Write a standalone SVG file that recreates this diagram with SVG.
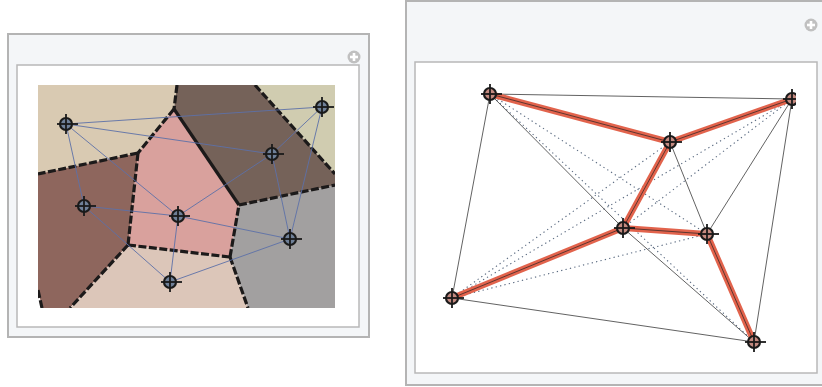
<svg xmlns="http://www.w3.org/2000/svg" xmlns:xlink="http://www.w3.org/1999/xlink" width="822" height="387" viewBox="0 0 822 387">
<style>
.outer{fill:#f4f6f8;stroke:#b4b4b4;stroke-width:2}
.inner{fill:#ffffff;stroke:#b8b8b8;stroke-width:1.5}
.cell{stroke:none}
.vb{fill:none;stroke:#1c1a1a;stroke-width:3.2;stroke-dasharray:8 2.5}
.vs{fill:none;stroke:#1c1a1a;stroke-width:3.2}
.del{stroke:#5c70a8;stroke-width:0.9;fill:none}
.mst{stroke:#e2634c;stroke-width:6;stroke-linecap:round;fill:none}
.mstc{stroke:#3a2a28;stroke-width:0.8;fill:none}
.thin{stroke:#3a3a3a;stroke-width:0.8;fill:none}
.dot{stroke:#5a6a80;stroke-width:1.1;stroke-dasharray:1.3 3.2;fill:none}
.plus{fill:#c0c0c0}
</style>
<defs>
<g id="mkL">
<circle r="6" fill="#6f8098" stroke="#1a1a1a" stroke-width="2.2"/>
<line x1="-9" y1="0" x2="12" y2="0" stroke="#1a1a1a" stroke-width="1.8"/>
<line x1="0" y1="-10" x2="0" y2="10" stroke="#1a1a1a" stroke-width="1.8"/>
</g>
<g id="mkR">
<circle r="6" fill="#c48a80" stroke="#1a1a1a" stroke-width="2.2"/>
<line x1="-3" y1="0" x2="3" y2="0" stroke="#d04030" stroke-width="1"/>
<line x1="-9" y1="0" x2="12" y2="0" stroke="#1a1a1a" stroke-width="1.8"/>
<line x1="0" y1="-10" x2="0" y2="10" stroke="#1a1a1a" stroke-width="1.8"/>
</g>
<g id="plusIcon">
<circle r="6.5" class="plus"/>
<rect x="-4" y="-1.3" width="8" height="2.6" fill="#fff"/>
<rect x="-1.3" y="-4" width="2.6" height="8" fill="#fff"/>
</g>
<clipPath id="clipL"><rect x="38" y="85" width="297" height="223"/></clipPath>
<clipPath id="clipR"><rect x="415" y="62" width="381" height="311"/></clipPath>
</defs>
<rect width="822" height="387" fill="#ffffff"/>

<!-- Left panel -->
<g id="panel-left">
<rect class="outer" x="8" y="34" width="361" height="303"/>
<rect class="inner" x="17" y="65" width="342" height="262"/>
<use xlink:href="#plusIcon" x="354" y="57"/>
<g id="voronoi" clip-path="url(#clipL)">
<polygon class="cell" fill="#d9cab2" points="38,85 177,85 174,109 138,153 38,174"/>
<polygon class="cell" fill="#756259" points="177,85 255,85 335,174 335,185 239,205 174,109"/>
<polygon class="cell" fill="#d0ccb0" points="255,85 335,85 335,174"/>
<polygon class="cell" fill="#8e665d" points="38,174 138,153 128,245 70,308 42,308 38,290"/>
<polygon class="cell" fill="#d9a19d" points="174,109 239,205 230,257 128,245 138,153"/>
<polygon class="cell" fill="#a2a0a0" points="239,205 335,185 335,308 248,308 230,257"/>
<polygon class="cell" fill="#dcc6b9" points="128,245 230,257 248,308 70,308"/>
<polygon class="cell" fill="#ffffff" points="38,290 42,308 38,308"/>
<line class="vb" x1="177" y1="85" x2="174" y2="109"/>
<line class="vb" x1="174" y1="109" x2="138" y2="153"/>
<line class="vb" x1="138" y1="153" x2="38" y2="174"/>
<line class="vs" x1="174" y1="109" x2="239" y2="205"/>
<line class="vb" x1="239" y1="205" x2="335" y2="185"/>
<line class="vb" x1="255" y1="85" x2="335" y2="174"/>
<line class="vb" x1="138" y1="153" x2="128" y2="245"/>
<line class="vb" x1="128" y1="245" x2="230" y2="257"/>
<line class="vb" x1="230" y1="257" x2="239" y2="205"/>
<line class="vb" x1="128" y1="245" x2="70" y2="308"/>
<line class="vb" x1="230" y1="257" x2="248" y2="308"/>
<line class="vb" x1="38" y1="290" x2="42" y2="308"/>
</g>
<g id="connectors-left">
<line class="del" x1="66" y1="124" x2="322" y2="107"/>
<line class="del" x1="66" y1="124" x2="272" y2="154"/>
<line class="del" x1="66" y1="124" x2="84" y2="206"/>
<line class="del" x1="66" y1="124" x2="178" y2="216"/>
<line class="del" x1="322" y1="107" x2="272" y2="154"/>
<line class="del" x1="322" y1="107" x2="290" y2="239"/>
<line class="del" x1="272" y1="154" x2="178" y2="216"/>
<line class="del" x1="272" y1="154" x2="290" y2="239"/>
<line class="del" x1="84" y1="206" x2="178" y2="216"/>
<line class="del" x1="84" y1="206" x2="170" y2="282"/>
<line class="del" x1="178" y1="216" x2="290" y2="239"/>
<line class="del" x1="178" y1="216" x2="170" y2="282"/>
<line class="del" x1="290" y1="239" x2="170" y2="282"/>
</g>
<g id="nodeL1"><use xlink:href="#mkL" x="66" y="124"/></g>
<g id="nodeL2"><use xlink:href="#mkL" x="322" y="107"/></g>
<g id="nodeL3"><use xlink:href="#mkL" x="272" y="154"/></g>
<g id="nodeL4"><use xlink:href="#mkL" x="84" y="206"/></g>
<g id="nodeL5"><use xlink:href="#mkL" x="178" y="216"/></g>
<g id="nodeL6"><use xlink:href="#mkL" x="290" y="239"/></g>
<g id="nodeL7"><use xlink:href="#mkL" x="170" y="282"/></g>
</g>

<!-- Right panel -->
<g id="panel-right">
<rect class="outer" x="406" y="1" width="420" height="384"/>
<rect class="inner" x="415" y="62" width="402" height="311"/>
<use xlink:href="#plusIcon" x="811" y="25"/>
<g id="connectors-right" clip-path="url(#clipR)">
<line class="dot" x1="490" y1="94" x2="707" y2="234"/>
<line class="dot" x1="490" y1="94" x2="754" y2="342"/>
<line class="dot" x1="452" y1="298" x2="670" y2="142"/>
<line class="dot" x1="452" y1="298" x2="792" y2="99"/>
<line class="dot" x1="452" y1="298" x2="707" y2="234"/>
<line class="dot" x1="792" y1="99" x2="623" y2="228"/>
<line class="thin" x1="490" y1="94" x2="792" y2="99"/>
<line class="thin" x1="490" y1="94" x2="452" y2="298"/>
<line class="thin" x1="452" y1="298" x2="754" y2="342"/>
<line class="thin" x1="792" y1="99" x2="754" y2="342"/>
<line class="thin" x1="490" y1="94" x2="623" y2="228"/>
<line class="thin" x1="623" y1="228" x2="754" y2="342"/>
<line class="thin" x1="670" y1="142" x2="707" y2="234"/>
<line class="thin" x1="792" y1="99" x2="707" y2="234"/>
<line class="mst" x1="490" y1="94" x2="670" y2="142"/>
<line class="mst" x1="670" y1="142" x2="792" y2="99"/>
<line class="mst" x1="670" y1="142" x2="623" y2="228"/>
<line class="mst" x1="623" y1="228" x2="707" y2="234"/>
<line class="mst" x1="707" y1="234" x2="754" y2="342"/>
<line class="mst" x1="623" y1="228" x2="452" y2="298"/>
<line class="mstc" x1="490" y1="94" x2="670" y2="142"/>
<line class="mstc" x1="670" y1="142" x2="792" y2="99"/>
<line class="mstc" x1="670" y1="142" x2="623" y2="228"/>
<line class="mstc" x1="623" y1="228" x2="707" y2="234"/>
<line class="mstc" x1="707" y1="234" x2="754" y2="342"/>
<line class="mstc" x1="623" y1="228" x2="452" y2="298"/>
</g>
<g clip-path="url(#clipR)">
<g id="nodeR1"><use xlink:href="#mkR" x="490" y="94"/></g>
<g id="nodeR2"><use xlink:href="#mkR" x="792" y="99"/></g>
<g id="nodeR3"><use xlink:href="#mkR" x="670" y="142"/></g>
<g id="nodeR4"><use xlink:href="#mkR" x="623" y="228"/></g>
<g id="nodeR5"><use xlink:href="#mkR" x="707" y="234"/></g>
<g id="nodeR6"><use xlink:href="#mkR" x="452" y="298"/></g>
<g id="nodeR7"><use xlink:href="#mkR" x="754" y="342"/></g>
</g>
</g>
</svg>
